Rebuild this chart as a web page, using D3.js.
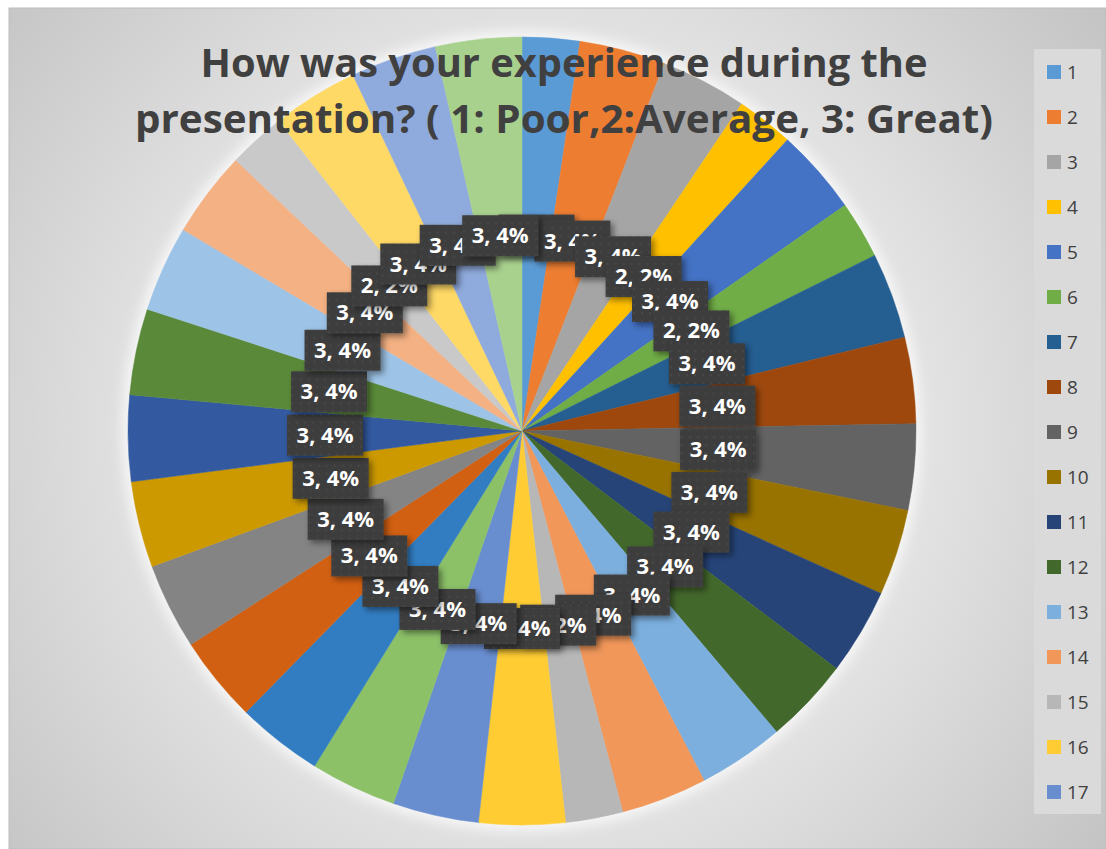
<!DOCTYPE html>
<html>
<head>
<meta charset="utf-8">
<script src="https://cdn.jsdelivr.net/npm/d3@7"></script>
<style>
  body { margin: 0; background: #ffffff; }
  svg { display: block; }
</style>
</head>
<body>
<div id="chart"></div>
<script>
// Chart values
const categories = ["1", "2", "3", "4", "5", "6", "7", "8", "9", "10",
    "11", "12", "13", "14", "15", "16", "17", "18", "19", "20",
    "21", "22", "23", "24", "25", "26", "27", "28", "29", "30"];
const values = [2, 3, 3, 2, 3, 2, 3, 3, 3, 3,
    3, 3, 3, 3, 2, 3, 3, 3, 3, 3,
    3, 3, 3, 3, 3, 3, 2, 3, 3, 3];
const sliceColors = ["#5B9BD5", "#ED7D31", "#A5A5A5", "#FFC000", "#4472C4", "#70AD47",
    "#255E91", "#9E480E", "#636363", "#997300", "#264478", "#43682B",
    "#7CAFDD", "#F1975A", "#B7B7B7", "#FFCD33", "#698ED0", "#8CC168",
    "#327DC2", "#D26012", "#848484", "#CC9A00", "#335AA1", "#5A8A39",
    "#9DC3E6", "#F4B183", "#C9C9C9", "#FFD966", "#8FAADC", "#A9D18E"];
const titleLines = ["How was your experience during the",
    "presentation? ( 1: Poor,2:Average, 3: Great)"];
// Excel only had room for the first 17 legend entries
const legendCount = 17;

const width = 1106, height = 849;
const cx = 522, cy = 431, radius = 394;

const svg = d3.select("#chart")
    .append("svg")
    .attr("width", width)
    .attr("height", height);

const defs = svg.append("defs");

// background gradient
const bg = defs.append("radialGradient")
    .attr("id", "bg")
    .attr("gradientUnits", "userSpaceOnUse")
    .attr("cx", 540).attr("cy", 430).attr("r", 720);
bg.append("stop").attr("offset", 0).attr("stop-color", "#f1f1f1");
bg.append("stop").attr("offset", 0.55).attr("stop-color", "#e2e2e2");
bg.append("stop").attr("offset", 1).attr("stop-color", "#c2c2c2");

// dotted fill for the data labels
const dots = defs.append("pattern")
    .attr("id", "dots")
    .attr("patternUnits", "userSpaceOnUse")
    .attr("width", 8).attr("height", 8);
dots.append("rect").attr("width", 8).attr("height", 8).attr("fill", "#3e3e3e");
dots.append("circle").attr("cx", 4).attr("cy", 4).attr("r", 0.8).attr("fill", "#505050");

const shadow = defs.append("filter")
    .attr("id", "shadow")
    .attr("x", "-30%").attr("y", "-30%")
    .attr("width", "160%").attr("height", "160%");
shadow.append("feDropShadow")
    .attr("dx", 3).attr("dy", 3)
    .attr("stdDeviation", 3)
    .attr("flood-color", "#000")
    .attr("flood-opacity", 0.45);

const glow = defs.append("filter").attr("id", "glow")
    .attr("x", "-10%").attr("y", "-10%")
    .attr("width", "120%").attr("height", "120%");
glow.append("feGaussianBlur").attr("stdDeviation", 6);

// chart area
svg.append("rect")
    .attr("x", 9).attr("y", 8)
    .attr("width", width - 9).attr("height", height - 8)
    .attr("fill", "url(#bg)")
    .attr("stroke", "#bdbdbd")
    .attr("stroke-width", 1);

// pie
const total = d3.sum(values);
const pie = d3.pie().sort(null).value(d => d);
const arcs = pie(values);

const arc = d3.arc().innerRadius(0).outerRadius(radius);
const labelArc = d3.arc().innerRadius(197).outerRadius(197);

const g = svg.append("g")
    .attr("transform", `translate(${cx}, ${cy})`);

g.append("circle")
    .attr("r", radius + 6)
    .attr("fill", "#f6f6f6")
    .attr("filter", "url(#glow)");

g.selectAll("path.slice")
    .data(arcs)
    .enter()
    .append("path")
    .attr("class", "slice")
    .attr("d", arc)
    .attr("fill", (d, i) => sliceColors[i])
    .attr("stroke", (d, i) => sliceColors[i])
    .attr("stroke-width", 0.5);

// data labels "value, percent"
const labels = g.selectAll("g.label")
    .data(arcs)
    .enter()
    .append("g")
    .attr("class", "label")
    .attr("transform", d => `translate(${labelArc.centroid(d)})`);

labels.append("rect")
    .attr("x", -38).attr("y", -20)
    .attr("width", 76).attr("height", 41)
    .attr("fill", "url(#dots)")
    .attr("filter", "url(#shadow)");

labels.append("text")
    .attr("text-anchor", "middle")
    .attr("y", 8)
    .style("font-family", "'Open Sans', 'DejaVu Sans', sans-serif")
    .style("font-weight", "bold")
    .style("font-size", "22px")
    .style("fill", "#ffffff")
    .text(d => `${d.data}, ${Math.round(d.data / total * 100)}%`);

// title
const titleWidths = [727, 858];
svg.selectAll("text.title")
    .data(titleLines)
    .enter()
    .append("text")
    .attr("class", "title")
    .attr("x", 564)
    .attr("y", (d, i) => 77 + i * 56)
    .attr("text-anchor", "middle")
    .attr("textLength", (d, i) => titleWidths[i])
    .attr("lengthAdjust", "spacingAndGlyphs")
    .style("font-family", "'Open Sans', 'DejaVu Sans', sans-serif")
    .style("font-weight", "bold")
    .style("font-size", "39px")
    .style("fill", "#404040")
    .text(d => d);

// legend
const legend = svg.append("g");
legend.append("rect")
    .attr("x", 1034).attr("y", 49)
    .attr("width", 67).attr("height", 765)
    .attr("fill", "#dadada");

const legendY = d3.scalePoint()
    .domain(categories.slice(0, legendCount))
    .range([72, 792]);

const items = legend.selectAll("g.item")
    .data(categories.slice(0, legendCount))
    .enter()
    .append("g")
    .attr("class", "item")
    .attr("transform", d => `translate(1047, ${legendY(d)})`);

items.append("rect")
    .attr("x", 0).attr("y", -7)
    .attr("width", 14).attr("height", 14)
    .attr("fill", (d, i) => sliceColors[i]);

items.append("text")
    .attr("x", 20).attr("y", 7)
    .style("font-family", "'Open Sans', 'DejaVu Sans', sans-serif")
    .style("font-size", "19px")
    .style("fill", "#404040")
    .text(d => d);
</script>
</body>
</html>
